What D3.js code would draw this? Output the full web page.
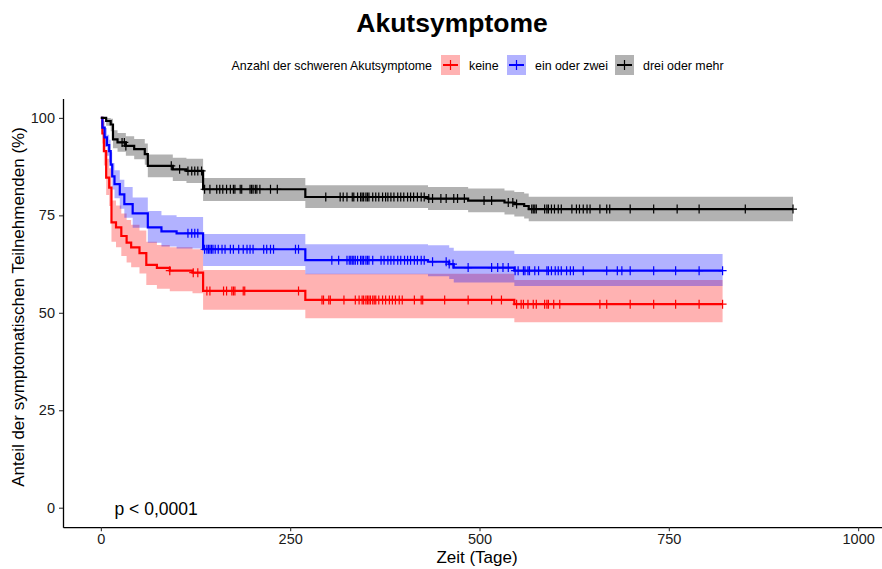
<!DOCTYPE html>
<html>
<head>
<meta charset="utf-8">
<script src="https://cdn.jsdelivr.net/npm/d3@7"></script>
<style>
	body { margin: 0; background: white; }
	svg text { font-family: "Liberation Sans", Arial, sans-serif; }
</style>
</head>
<body>
<svg id="plot" width="882" height="569"></svg>
<script>
// Kaplan-Meier style curves (days, %)
const GROUPS = ['keine', 'ein oder zwei', 'drei oder mehr'];
const COLORS = ['#FF0000', '#0000FF', '#000000'];

const KEINE_TIME  = [0, 2, 4, 7, 11, 14, 20, 27, 34, 40, 51, 60, 74, 91, 121, 135, 270, 546, 821];
const KEINE_SURV  = [100, 96, 91.5, 84.7, 82.1, 73.2, 71.9, 69.7, 68, 66.8, 65.3, 62.3, 61.5, 60.8, 60.3, 55.6, 53.3, 52.2, 52.2];
const KEINE_LOWER = [100, 93.4, 87.8, 80.2, 77.4, 68.2, 66.8, 64.6, 62.9, 61.7, 60.1, 57.1, 56.2, 55.5, 55.0, 50.8, 48.6, 47.6, 47.6];
const KEINE_UPPER = [100, 98.6, 95.3, 89.5, 87.1, 78.8, 77.5, 75.5, 73.8, 72.6, 71.1, 68.2, 67.4, 66.8, 66.3, 61.0, 60.0, 58.4, 58.4];
const KEINE_CENSOR = [91, 122, 128, 140, 144, 162, 166, 173, 175, 177, 188, 190, 261, 292, 294, 301, 303, 321, 336, 341, 345, 347, 350, 352, 354, 356, 359, 361, 363, 367, 372, 376, 381, 385, 389, 394, 398, 414, 423, 425, 454, 485, 516, 529, 549, 555, 558, 564, 571, 575, 586, 589, 591, 598, 606, 659, 668, 699, 730, 759, 790, 821];

const ZWEI_TIME  = [0, 2, 5, 8, 11, 13, 15, 18, 25, 31, 42, 62, 80, 100, 135, 270, 432, 460, 466, 546, 821];
const ZWEI_SURV  = [100, 97.5, 95, 93, 91.5, 88, 85, 83, 80.4, 77.9, 75.5, 71.9, 70.9, 70.4, 66.3, 63.5, 63.1, 62.5, 61.6, 60.8, 60.8];
const ZWEI_LOWER = [100, 95.8, 92.6, 90.3, 88.6, 84.8, 81.6, 79.4, 76.7, 74.4, 71.8, 68.0, 67.0, 66.5, 62.0, 59.9, 59.4, 58.7, 57.8, 56.9, 56.9];
const ZWEI_UPPER = [100, 99.2, 97.4, 95.7, 94.4, 91.2, 88.4, 86.6, 84.1, 82.3, 79.6, 76.1, 75.0, 74.6, 70.2, 67.6, 67.3, 66.7, 65.9, 65.1, 65.1];
const ZWEI_CENSOR = [115, 120, 124, 128, 137, 140, 142, 144, 146, 148, 151, 155, 160, 164, 171, 175, 182, 188, 193, 197, 201, 215, 219, 224, 228, 257, 261, 305, 314, 325, 328, 330, 332, 334, 336, 339, 343, 345, 347, 350, 352, 354, 359, 370, 374, 379, 383, 387, 392, 396, 401, 405, 409, 414, 418, 423, 427, 438, 456, 460, 465, 485, 516, 524, 531, 538, 547, 551, 558, 560, 564, 566, 573, 578, 589, 591, 595, 600, 604, 608, 615, 620, 624, 637, 668, 682, 688, 699, 730, 759, 790, 821];

const DREI_TIME  = [0, 7, 13, 16, 22, 33, 44, 58, 62, 95, 113, 135, 270, 432, 485, 533, 546, 559, 565, 914];
const DREI_SURV  = [100, 99.2, 98.3, 94.5, 93.7, 92.8, 92.0, 90.7, 87.7, 86.8, 86.4, 81.7, 79.7, 79.3, 78.8, 78.3, 77.9, 77.4, 76.6, 76.6];
const DREI_LOWER = [100, 98.0, 96.6, 92.2, 91.3, 90.3, 89.4, 88.0, 84.8, 83.8, 83.3, 78.7, 76.9, 76.4, 75.8, 75.2, 74.7, 74.2, 73.5, 73.5];
const DREI_UPPER = [100, 100, 99.8, 96.8, 96.1, 95.3, 94.6, 93.4, 90.6, 89.8, 89.5, 84.6, 82.7, 82.3, 81.9, 81.4, 81.0, 80.6, 79.8, 79.8];
const DREI_CENSOR = [28, 31, 33, 93, 104, 115, 120, 124, 128, 133, 137, 144, 153, 157, 161, 166, 171, 175, 177, 184, 186, 197, 199, 201, 204, 206, 210, 224, 233, 297, 316, 320, 325, 332, 334, 339, 343, 345, 347, 350, 352, 354, 359, 363, 367, 372, 376, 379, 383, 387, 392, 396, 400, 405, 409, 413, 418, 423, 427, 433, 438, 449, 456, 466, 471, 480, 506, 516, 538, 544, 549, 569, 571, 573, 575, 586, 589, 591, 595, 599, 604, 608, 622, 628, 632, 637, 642, 646, 659, 668, 672, 699, 730, 761, 790, 851, 914];

const X_TICKS = [0, 250, 500, 750, 1000];
const Y_TICKS = [0, 25, 50, 75, 100];

const TITLE = 'Akutsymptome';
const LEGEND_TITLE = 'Anzahl der schweren Akutsymptome';
const X_TITLE = 'Zeit (Tage)';
const Y_TITLE = 'Anteil der symptomatischen Teilnehmenden (%)';
const P_TEXT = 'p < 0,0001';

const series = [
	{ time: KEINE_TIME, surv: KEINE_SURV, lower: KEINE_LOWER, upper: KEINE_UPPER, censor: KEINE_CENSOR },
	{ time: ZWEI_TIME, surv: ZWEI_SURV, lower: ZWEI_LOWER, upper: ZWEI_UPPER, censor: ZWEI_CENSOR },
	{ time: DREI_TIME, surv: DREI_SURV, lower: DREI_LOWER, upper: DREI_UPPER, censor: DREI_CENSOR }
];

const svg = d3.select('#plot');

const x = d3.scaleLinear().domain([-50, 1050]).range([63, 896]);
const y = d3.scaleLinear().domain([-5, 105]).range([527.2, 98.4]);

// survival value at time t (step function)
function survAt(s, t) {
	let v = s.surv[0];
	for (let i = 0; i < s.time.length; i++) {
		if (s.time[i] <= t) v = s.surv[i];
	}
	return v;
}

const plotArea = svg.append('g');

// ribbons first
series.forEach((s, k) => {
	const pts = s.time.map((t, i) => ({ t: t, lo: s.lower[i], hi: s.upper[i] }));
	const area = d3.area()
		.curve(d3.curveStepAfter)
		.x(d => x(d.t))
		.y0(d => y(d.lo))
		.y1(d => y(d.hi));
	plotArea.append('path')
		.attr('d', area(pts))
		.attr('fill', COLORS[k])
		.attr('fill-opacity', 0.3);
});

// lines and censor marks
series.forEach((s, k) => {
	const pts = s.time.map((t, i) => ({ t: t, v: s.surv[i] }));
	const line = d3.line()
		.curve(d3.curveStepAfter)
		.x(d => x(d.t))
		.y(d => y(d.v));
	plotArea.append('path')
		.attr('d', line(pts))
		.attr('fill', 'none')
		.attr('stroke', COLORS[k])
		.attr('stroke-width', 2.2);

	plotArea.selectAll(null)
		.data(s.censor)
		.enter()
		.append('path')
		.attr('d', t => {
			const cx = x(t), cy = y(survAt(s, t));
			return 'M' + (cx - 4) + ',' + cy + 'H' + (cx + 4) + 'M' + cx + ',' + (cy - 4.5) + 'V' + (cy + 4.5);
		})
		.attr('stroke', COLORS[k])
		.attr('stroke-width', 1.2)
		.attr('fill', 'none');
});

// axes
const axisX = svg.append('g')
	.attr('transform', 'translate(0,527.2)')
	.call(d3.axisBottom(x).tickValues(X_TICKS).tickFormat(d3.format('d'))
		.tickSize(4).tickSizeOuter(0).tickPadding(3));
const axisY = svg.append('g')
	.attr('transform', 'translate(63,0)')
	.call(d3.axisLeft(y).tickValues(Y_TICKS).tickFormat(d3.format('d'))
		.tickSize(4).tickSizeOuter(0).tickPadding(4));

[axisX, axisY].forEach(a => {
	a.select('.domain').attr('stroke', '#000').attr('stroke-width', 1.3);
	a.selectAll('.tick line').attr('stroke', '#333').attr('stroke-width', 1.1);
	a.selectAll('.tick text').attr('fill', '#1a1a1a').style('font-size', '14.5px');
});

// titles
svg.append('text')
	.attr('x', 452).attr('y', 32)
	.attr('text-anchor', 'middle')
	.style('font-size', '26.5px').style('font-weight', 'bold')
	.text(TITLE);

svg.append('text')
	.attr('x', 477).attr('y', 563)
	.attr('text-anchor', 'middle')
	.style('font-size', '17px')
	.text(X_TITLE);

svg.append('text')
	.attr('transform', 'translate(24,307) rotate(-90)')
	.attr('text-anchor', 'middle')
	.style('font-size', '17px')
	.text(Y_TITLE);

svg.append('text')
	.attr('x', x(18)).attr('y', y(0) + 7)
	.style('font-size', '17.5px')
	.text(P_TEXT);

// legend
const legend = svg.append('g');
legend.append('text')
	.attr('x', 432).attr('y', 69.5)
	.attr('text-anchor', 'end')
	.style('font-size', '12.4px')
	.text(LEGEND_TITLE);

const KEY_X = [441, 507, 615];
GROUPS.forEach((g, k) => {
	const kx = KEY_X[k];
	legend.append('rect')
		.attr('x', kx).attr('y', 55).attr('width', 19).attr('height', 20)
		.attr('fill', COLORS[k]).attr('fill-opacity', 0.3);
	legend.append('path')
		.attr('d', 'M' + (kx + 2) + ',65H' + (kx + 17))
		.attr('stroke', COLORS[k]).attr('stroke-width', 2);
	legend.append('path')
		.attr('d', 'M' + (kx + 9.5) + ',60V70')
		.attr('stroke', COLORS[k]).attr('stroke-width', 1.2);
	legend.append('text')
		.attr('x', kx + 28).attr('y', 69.5)
		.style('font-size', '12.4px')
		.text(g);
});
</script>
</body>
</html>
